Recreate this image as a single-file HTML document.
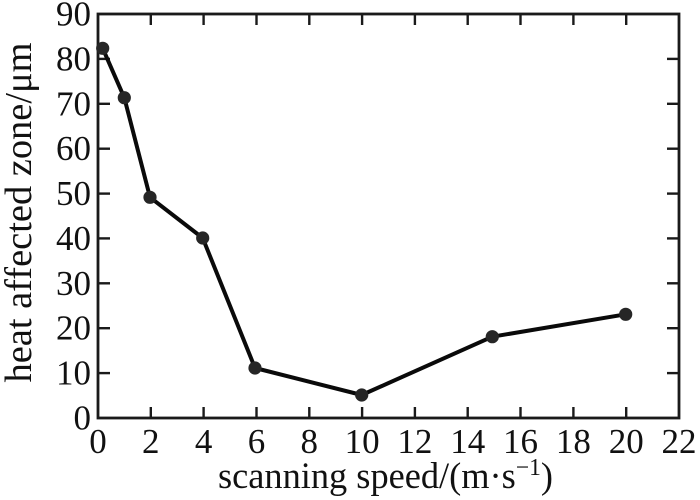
<!DOCTYPE html>
<html><head><meta charset="utf-8"><style>
html,body{margin:0;padding:0;background:#fff;}
svg{display:block;}
text{font-family:"Liberation Serif","Times New Roman",serif;fill:#111;}
</style></head><body>
<svg width="700" height="500" viewBox="0 0 700 500" xmlns="http://www.w3.org/2000/svg">
<rect width="700" height="500" fill="#fff"/>
<g stroke="#1a1a1a" stroke-width="2.4">
<line x1="150.8" y1="418" x2="150.8" y2="407"/><line x1="150.8" y1="14" x2="150.8" y2="25"/>
<line x1="203.6" y1="418" x2="203.6" y2="407"/><line x1="203.6" y1="14" x2="203.6" y2="25"/>
<line x1="256.5" y1="418" x2="256.5" y2="407"/><line x1="256.5" y1="14" x2="256.5" y2="25"/>
<line x1="309.3" y1="418" x2="309.3" y2="407"/><line x1="309.3" y1="14" x2="309.3" y2="25"/>
<line x1="362.1" y1="418" x2="362.1" y2="407"/><line x1="362.1" y1="14" x2="362.1" y2="25"/>
<line x1="414.9" y1="418" x2="414.9" y2="407"/><line x1="414.9" y1="14" x2="414.9" y2="25"/>
<line x1="467.7" y1="418" x2="467.7" y2="407"/><line x1="467.7" y1="14" x2="467.7" y2="25"/>
<line x1="520.5" y1="418" x2="520.5" y2="407"/><line x1="520.5" y1="14" x2="520.5" y2="25"/>
<line x1="573.4" y1="418" x2="573.4" y2="407"/><line x1="573.4" y1="14" x2="573.4" y2="25"/>
<line x1="626.2" y1="418" x2="626.2" y2="407"/><line x1="626.2" y1="14" x2="626.2" y2="25"/>
<line x1="98" y1="373.1" x2="110" y2="373.1"/><line x1="679" y1="373.1" x2="667" y2="373.1"/>
<line x1="98" y1="328.2" x2="110" y2="328.2"/><line x1="679" y1="328.2" x2="667" y2="328.2"/>
<line x1="98" y1="283.3" x2="110" y2="283.3"/><line x1="679" y1="283.3" x2="667" y2="283.3"/>
<line x1="98" y1="238.4" x2="110" y2="238.4"/><line x1="679" y1="238.4" x2="667" y2="238.4"/>
<line x1="98" y1="193.6" x2="110" y2="193.6"/><line x1="679" y1="193.6" x2="667" y2="193.6"/>
<line x1="98" y1="148.7" x2="110" y2="148.7"/><line x1="679" y1="148.7" x2="667" y2="148.7"/>
<line x1="98" y1="103.8" x2="110" y2="103.8"/><line x1="679" y1="103.8" x2="667" y2="103.8"/>
<line x1="98" y1="58.9" x2="110" y2="58.9"/><line x1="679" y1="58.9" x2="667" y2="58.9"/>
</g>
<rect x="98" y="14" width="581" height="404" fill="none" stroke="#1a1a1a" stroke-width="2.8"/>
<polyline points="102.7,48.3 124.3,97.7 150,197.3 202.7,238 255,368 361.7,395 492.3,336.7 625.7,314.3" fill="none" stroke="#0a0a0a" stroke-width="4" stroke-linejoin="round"/>
<g fill="#262626">
<circle cx="102.7" cy="48.3" r="6.6"/><circle cx="124.3" cy="97.7" r="6.6"/>
<circle cx="150" cy="197.3" r="6.6"/><circle cx="202.7" cy="238" r="6.6"/>
<circle cx="255" cy="368" r="6.6"/><circle cx="361.7" cy="395" r="6.6"/>
<circle cx="492.3" cy="336.7" r="6.6"/><circle cx="625.7" cy="314.3" r="6.6"/>
</g>
<g font-size="35" text-anchor="middle">
<text x="98" y="453">0</text><text x="150.8" y="453">2</text><text x="203.6" y="453">4</text>
<text x="256.5" y="453">6</text><text x="309.3" y="453">8</text><text x="362.1" y="453">10</text>
<text x="414.9" y="453">12</text><text x="467.7" y="453">14</text><text x="520.5" y="453">16</text>
<text x="573.4" y="453">18</text><text x="626.2" y="453">20</text><text x="679" y="453">22</text>
</g>
<g font-size="35" text-anchor="end">
<text x="91" y="429.5">0</text><text x="91" y="384.6">10</text><text x="91" y="339.7">20</text>
<text x="91" y="294.8">30</text><text x="91" y="249.9">40</text><text x="91" y="205.1">50</text>
<text x="91" y="160.2">60</text><text x="91" y="115.3">70</text><text x="91" y="70.4">80</text>
<text x="91" y="25.5">90</text>
</g>
<text x="385.5" y="488" font-size="37" text-anchor="middle" textLength="335" lengthAdjust="spacingAndGlyphs">scanning speed/(m·s<tspan font-size="24" dy="-13">−1</tspan><tspan dy="13">)</tspan></text>
<text transform="translate(31,212.5) rotate(-90)" x="0" y="0" font-size="38" text-anchor="middle" textLength="340" lengthAdjust="spacingAndGlyphs">heat affected zone/μm</text>
</svg>
</body></html>
